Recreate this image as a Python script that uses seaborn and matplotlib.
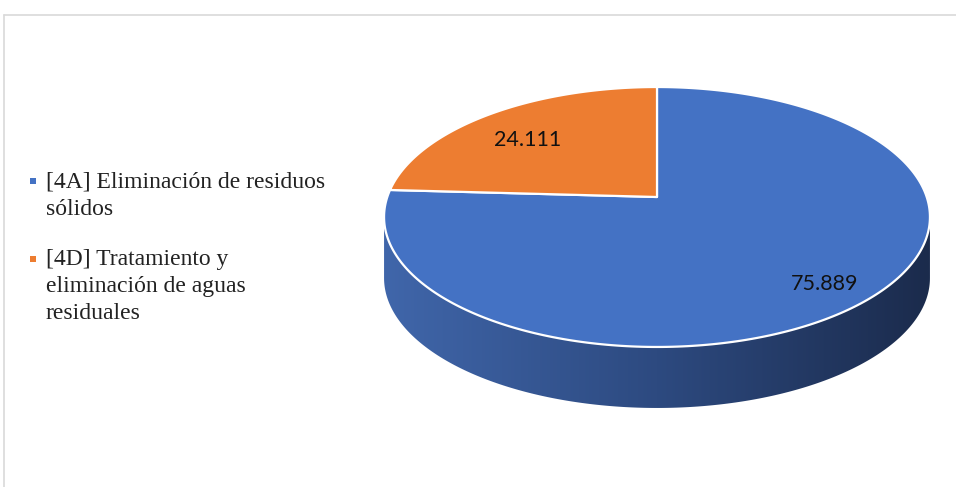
import numpy as np
import matplotlib
matplotlib.use("Agg")
import matplotlib.pyplot as plt
import seaborn as sns
from matplotlib.patches import Polygon, Rectangle
from matplotlib.lines import Line2D
from matplotlib.colors import LinearSegmentedColormap

# ---------------- data ----------------
categories = ["[4A] Eliminación de residuos\nsólidos",
              "[4D] Tratamiento y\neliminación de aguas\nresiduales"]
values = [75.889, 24.111]
value_labels = ["75.889", "24.111"]

# ---------------- style ----------------
sns.set_theme(style="white")
plt.rcParams['font.family'] = ['Liberation Serif', 'DejaVu Serif']
colors = sns.color_palette(["#4472C4", "#ED7D31"])
side_cmap = LinearSegmentedColormap.from_list(
    "side", ["#4066aa", "#2d4a80", "#1b2b4c"])

W, H = 956, 487
fig = plt.figure(figsize=(W / 100, H / 100), dpi=100)
ax = fig.add_axes([0, 0, 1, 1])
ax.set_xlim(0, W)
ax.set_ylim(H, 0)
ax.axis("off")

# slice angles computed by matplotlib's pie
tmp = fig.add_axes([0, 0, 0.05, 0.05])
wedges, _ = tmp.pie(values, startangle=90, counterclock=False)
angles = [(w.theta1, w.theta2) for w in wedges]
tmp.remove()

# perspective projection of the unit disk onto the canvas
CX, CY = 657.0, 197.0
A, B, G = 269.7, 126.9, 0.1538
DEPTH = 61.0


def proj(x, y):
    w = 1 + G * y
    return CX + A * x / w, CY - B * y / w


# ---- side wall (front half) ----
t_edge = np.degrees(np.arcsin(G))
t = np.radians(np.linspace(180 + t_edge, 360 - t_edge, 300))
sx, sy = proj(np.cos(t), np.sin(t))
side_pts = np.vstack([np.column_stack([sx, sy]),
                      np.column_stack([sx[::-1], sy[::-1] + DEPTH])])
side = Polygon(side_pts, closed=True, facecolor="none", edgecolor="none")
ax.add_patch(side)
grad = np.linspace(0, 1, 256).reshape(1, -1)
im = ax.imshow(grad, cmap=side_cmap, aspect="auto",
               extent=(sx.min(), sx.max(), sy.max() + DEPTH, sy.min()),
               zorder=1, interpolation="bilinear")
im.set_clip_path(side)

# ---- top faces ----
label_r = [0.82, 0.72]
label_shift = [(0, 4), (-6, 4)]
for i, (t1, t2) in enumerate(angles):
    tt = np.radians(np.linspace(t1, t2, 300))
    px, py = proj(np.cos(tt), np.sin(tt))
    cx0, cy0 = proj(0.0, 0.0)
    pts = np.vstack([[cx0, cy0], np.column_stack([px, py])])
    ax.add_patch(Polygon(pts, closed=True, facecolor=colors[i],
                         edgecolor="white", lw=1.6, zorder=3,
                         joinstyle="round"))
    mid = np.radians((t1 + t2) / 2)
    lx, ly = proj(label_r[i] * np.cos(mid), label_r[i] * np.sin(mid))
    ax.text(lx + label_shift[i][0], ly + label_shift[i][1], value_labels[i],
            ha="center", va="center", fontsize=15.5,
            family=["Lato", "DejaVu Sans"], color="#111111", zorder=5)

# ---- legend ----
marker_y = [181, 259]
last_base = [215, 319]
for i, lab in enumerate(categories):
    ax.add_patch(Rectangle((30, marker_y[i] - 3), 6, 6, facecolor=colors[i],
                           edgecolor="none", zorder=5))
    ax.text(46, last_base[i], lab, ha="left", va="baseline", fontsize=17,
            linespacing=1.38, color="#222222", zorder=5)

# ---- chart-area border ----
ax.add_line(Line2D([4.5, W + 5], [14.5, 14.5], color="#d9d9d9", lw=1.2))
ax.add_line(Line2D([4.5, 4.5], [14.5, H + 5], color="#d9d9d9", lw=1.2))

fig.savefig("out.png", dpi=100)
